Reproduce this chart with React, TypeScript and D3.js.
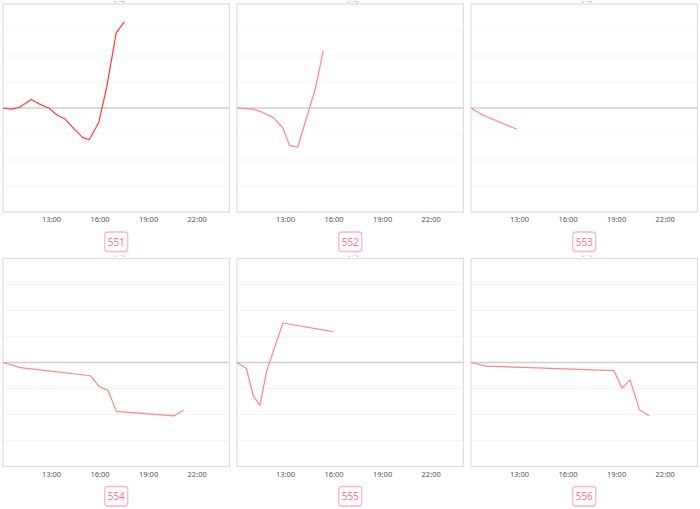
import React from "react";
import * as d3 from "d3";

const names = ["551", "552", "553", "554", "555", "556"];

const times1 = ["10:00","10:30","11:00","11:45","12:15","12:50","13:20","13:50","14:25","14:55","15:20","15:55","16:25","17:00","17:30"];
const vals1 = [0,-0.04,0.02,0.33,0.15,0,-0.27,-0.42,-0.82,-1.13,-1.22,-0.56,0.82,2.9,3.31];

const times2 = ["10:00","11:00","11:35","12:15","12:50","13:15","13:45","14:50","15:20"];
const vals2 = [0,-0.04,-0.17,-0.37,-0.76,-1.45,-1.51,0.72,2.2];

const times3 = ["10:00","10:15","10:45","12:50"];
const vals3 = [0,-0.1,-0.28,-0.82];

const times4 = ["10:00","11:05","15:25","15:55","16:30","17:00","20:35","21:10"];
const vals4 = [0,-0.2,-0.51,-0.91,-1.08,-1.88,-2.05,-1.83];

const times5 = ["10:00","10:35","11:00","11:25","11:50","12:50","15:55"];
const vals5 = [0,-0.23,-1.27,-1.65,-0.33,1.52,1.19];

const times6 = ["10:00","10:55","18:50","19:20","19:50","20:25","21:00"];
const vals6 = [0,-0.14,-0.31,-0.98,-0.67,-1.82,-2.05];

const xTickHours = [13, 16, 19, 22];
const yGridValues = [-4, -3, -2, -1, 0, 1, 2, 3, 4];
const lineColors = ["#ff3a3a", "#ff8686", "#ff8686", "#ff8686", "#ff8686", "#ff8686"];

const allTimes = [times1, times2, times3, times4, times5, times6];
const allVals = [vals1, vals2, vals3, vals4, vals5, vals6];

const toHours = (s: string) => {
  const [h, m] = s.split(":").map(Number);
  return h + m / 60;
};

const PW = 226.5;
const PH = 208;
const COL_STEP = 234;
const ROW_STEP = 254.5;
const X0 = 3;
const Y0 = 4;

function Panel({ idx }: { idx: number }) {
  const col = idx % 3;
  const row = Math.floor(idx / 3);
  const left = X0 + col * COL_STEP;
  const top = Y0 + row * ROW_STEP;
  const x = d3.scaleLinear().domain([10, 24]).range([left, left + PW]);
  const y = d3.scaleLinear().domain([-4, 4]).range([top + PH, top]);
  const data = allTimes[idx].map((t, i) => ({ h: toHours(t), v: allVals[idx][i] }));
  const line = d3.line<{ h: number; v: number }>().x((d) => x(d.h)).y((d) => y(d.v));
  const cx = left + PW / 2;
  const clipId = `titleclip${idx}`;
  return (
    <g>
      <defs>
        <clipPath id={clipId}>
          <rect x={left} y={top - 3} width={PW} height={3} />
        </clipPath>
      </defs>
      <text
        x={cx + 3}
        y={top - 2.5}
        textAnchor="middle"
        fontSize={8}
        fill="#999"
        clipPath={`url(#${clipId})`}
        fontFamily="Noto Sans, sans-serif"
      >
        (%)
      </text>
      <rect x={left} y={top} width={PW} height={PH} fill="#fff" />
      {yGridValues.map((v) => (
        <line
          key={v}
          x1={left}
          x2={left + PW}
          y1={y(v)}
          y2={y(v)}
          stroke={v === 0 ? "#cfcfcf" : "#f4f4f4"}
          strokeWidth={v === 0 ? 1.5 : 1}
        />
      ))}
      <rect x={left} y={top} width={PW} height={PH} fill="none" stroke="#dedede" strokeWidth={1.2} />
      <path d={line(data) || ""} fill="none" stroke={lineColors[idx]} strokeWidth={1.2} strokeLinejoin="round" />
      {xTickHours.map((h) => (
        <text
          key={h}
          x={x(h)}
          y={top + PH + 10}
          textAnchor="middle"
          fontSize={7.5}
          fill="#555"
          fontFamily="Noto Sans, sans-serif"
        >
          {`${h}:00`}
        </text>
      ))}
      <rect
        x={cx - 11.5}
        y={top + PH + 20}
        width={23}
        height={19.5}
        rx={3}
        fill="#fff"
        stroke="#ffb3c6"
        strokeWidth={1.3}
      />
      <text
        x={cx}
        y={top + PH + 33.5}
        textAnchor="middle"
        fontSize={10}
        fill="#f2789a"
        fontFamily="Noto Sans, sans-serif"
      >
        {names[idx]}
      </text>
    </g>
  );
}

export default function App() {
  return (
    <svg
      width={700}
      height={509}
      style={{ position: "absolute", left: 0, top: 0, background: "#fff" }}
    >
      {names.map((_, i) => (
        <Panel key={i} idx={i} />
      ))}
    </svg>
  );
}
